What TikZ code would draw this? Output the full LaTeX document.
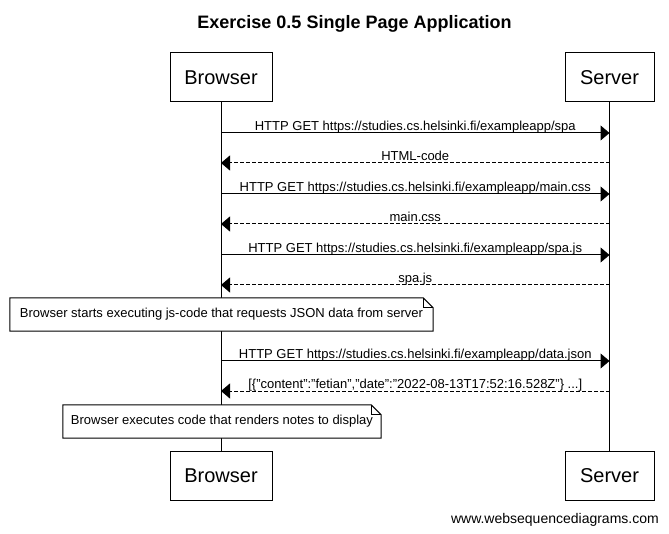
\documentclass[tikz,border=0pt]{standalone}
\usepackage{fontspec}
\setmainfont{Liberation Sans}
\usetikzlibrary{arrows.meta}
\begin{document}
\begin{tikzpicture}[x=1pt,y=-1pt,
  actor/.style={draw, line width=1pt, minimum height=49pt, inner sep=0pt, font=\fontsize{20}{24}\selectfont},
  msg/.style={font=\fontsize{13}{15}\selectfont, inner sep=0pt},
  req/.style={line width=1pt, -{Triangle[length=9pt,width=15pt]}},
  resp/.style={req, dash pattern=on 4pt off 2pt},
  notebox/.style={font=\fontsize{13}{15}\selectfont, minimum height=33pt, inner sep=0pt},
  life/.style={line width=1pt}
]
\useasboundingbox (0,0) rectangle (669,534);
\fill[white] (0,0) rectangle (669,534);

\node[font=\bfseries\fontsize{18}{22}\selectfont, anchor=base] (title) at (354.5,28.5) {Exercise 0.5 Single Page Application};

\node[actor, minimum width=102pt] (bt) at (221,77.5) {Browser};
\node[actor, minimum width=89pt] (st) at (609.5,77.5) {Server};
\node[actor, minimum width=102pt] (bb) at (221,475.5) {Browser};
\node[actor, minimum width=89pt] (sb) at (609.5,475.5) {Server};

\draw[life] (bt.south) -- (bb.north);
\draw[life] (st.south) -- (sb.north);

% message end points on the lifelines
\foreach \i/\y in {1/133,2/163,3/194,4/224,5/255,6/285,7/361,8/391}{
  \coordinate (b\i) at (221,\y);
  \coordinate (s\i) at (609.5,\y);
}

\draw[req] (b1) -- (s1) node[msg, midway, anchor=base, yshift=2.5pt] (l1) {HTTP GET https://studies.cs.helsinki.fi/exampleapp/spa};
\draw[resp] (s2) -- (b2) node[msg, midway, anchor=base, yshift=2.5pt] (l2) {HTML-code};
\draw[req] (b3) -- (s3) node[msg, midway, anchor=base, yshift=2.5pt] (l3) {HTTP GET https://studies.cs.helsinki.fi/exampleapp/main.css};
\draw[resp] (s4) -- (b4) node[msg, midway, anchor=base, yshift=2.5pt] (l4) {main.css};
\draw[req] (b5) -- (s5) node[msg, midway, anchor=base, yshift=2.5pt] (l5) {HTTP GET https://studies.cs.helsinki.fi/exampleapp/spa.js};
\draw[resp] (s6) -- (b6) node[msg, midway, anchor=base, yshift=2.5pt] (l6) {spa.js};
\draw[req] (b7) -- (s7) node[msg, midway, anchor=base, yshift=2.5pt] (l7) {HTTP GET https://studies.cs.helsinki.fi/exampleapp/data.json};
\draw[resp] (s8) -- (b8) node[msg, midway, anchor=base, yshift=2.5pt] (l8) {[\{"content":"fetian","date":"2022-08-13T17:52:16.528Z"\} ...]};

% notes
\node[notebox, minimum width=423pt] (n1) at (221.5,314.5) {Browser starts executing js-code that requests JSON data from server};
\draw[line width=1pt, fill=white] (n1.north west) -- ([xshift=-10pt]n1.north east) -- ([yshift=-10pt]n1.north east) -- (n1.south east) -- (n1.south west) -- cycle;
\draw[line width=1pt] ([xshift=-10pt]n1.north east) -- ([xshift=-10pt,yshift=-10pt]n1.north east) -- ([yshift=-10pt]n1.north east);
\node[notebox] at (n1) {Browser starts executing js-code that requests JSON data from server};

\node[notebox, minimum width=318pt] (n2) at (222,421.5) {Browser executes code that renders notes to display};
\draw[line width=1pt, fill=white] (n2.north west) -- ([xshift=-10pt]n2.north east) -- ([yshift=-10pt]n2.north east) -- (n2.south east) -- (n2.south west) -- cycle;
\draw[line width=1pt] ([xshift=-10pt]n2.north east) -- ([xshift=-10pt,yshift=-10pt]n2.north east) -- ([yshift=-10pt]n2.north east);
\node[notebox] at (n2) {Browser executes code that renders notes to display};

\node[font=\fontsize{14}{16}\selectfont, anchor=base east, inner sep=0pt] (wm) at (659,523.5) {www.websequencediagrams.com};
\end{tikzpicture}
\end{document}
